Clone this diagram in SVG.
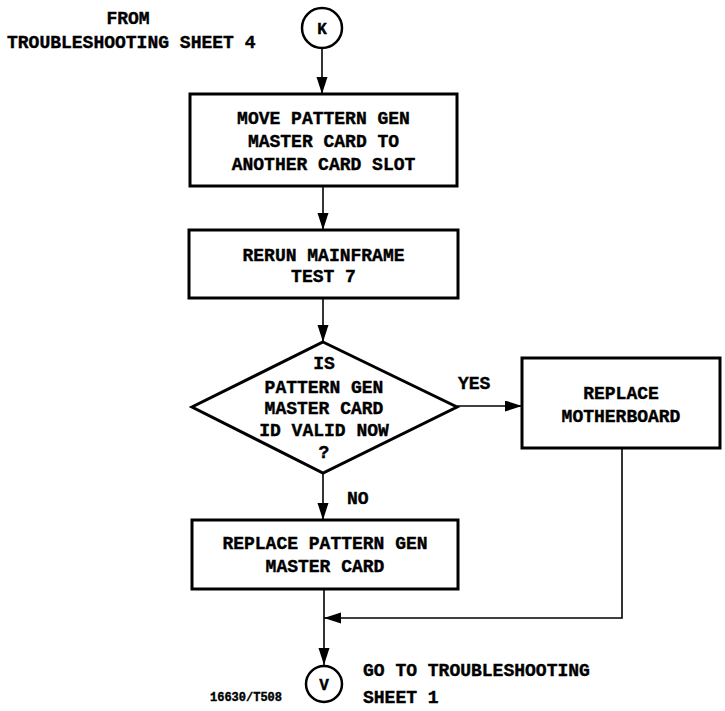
<svg xmlns="http://www.w3.org/2000/svg" width="725" height="711" viewBox="0 0 725 711">
<defs>
<style>
.t{font-family:"Liberation Mono","DejaVu Sans Mono",monospace;font-weight:bold;font-size:18px;fill:#000;stroke:#000;stroke-width:0.4;}
.c{text-anchor:middle;}
.box{fill:#fff;stroke:#000;stroke-width:3;}
.circ{fill:#fff;stroke:#000;stroke-width:2.5;}
.ln{fill:none;stroke:#000;stroke-width:1.6;}
</style>
<marker id="ah" markerUnits="userSpaceOnUse" markerWidth="18" markerHeight="12" refX="17" refY="5.5" orient="auto">
<path d="M0,0 L17,5.5 L0,11 z" fill="#000"/>
</marker>
</defs>
<rect width="725" height="711" fill="#fff"/>
<g id="connectors">
<line class="ln" x1="322" y1="48" x2="322" y2="94" marker-end="url(#ah)"/>
<line class="ln" x1="323" y1="186" x2="323" y2="230" marker-end="url(#ah)"/>
<line class="ln" x1="323" y1="298" x2="323" y2="342" marker-end="url(#ah)"/>
<line class="ln" x1="457" y1="406" x2="522" y2="406" marker-end="url(#ah)"/>
<line class="ln" x1="323" y1="473" x2="323" y2="520" marker-end="url(#ah)"/>
<line class="ln" x1="324" y1="589" x2="324" y2="665" marker-end="url(#ah)"/>
<polyline class="ln" points="622,448 622,618 324,618" marker-end="url(#ah)"/>
</g>
<g id="start-text">
<text class="t c" x="128" y="24">FROM</text>
<text class="t" x="7" y="48">TROUBLESHOOTING SHEET 4</text>
</g>
<g id="K">
<circle class="circ" cx="322" cy="28" r="20"/>
<text class="t c" x="322" y="34" style="font-size:16px">K</text>
</g>
<g id="move">
<rect class="box" x="190" y="94" width="267" height="92"/>
<text class="t c" x="323.5" y="124">MOVE PATTERN GEN</text>
<text class="t c" x="323.5" y="147">MASTER CARD TO</text>
<text class="t c" x="323.5" y="170">ANOTHER CARD SLOT</text>
</g>
<g id="rerun">
<rect class="box" x="189" y="230" width="269" height="68"/>
<text class="t c" x="323.5" y="261">RERUN MAINFRAME</text>
<text class="t c" x="323.5" y="282">TEST 7</text>
</g>
<g id="decision">
<polygon class="box" points="323,342 457,407 323,473 192,407"/>
<text class="t c" x="324" y="369">IS</text>
<text class="t c" x="324" y="393">PATTERN GEN</text>
<text class="t c" x="324" y="414">MASTER CARD</text>
<text class="t c" x="324" y="436">ID VALID NOW</text>
<text class="t c" x="324" y="458">?</text>
</g>
<g id="labels">
<text class="t" x="458" y="389">YES</text>
<text class="t" x="347" y="504">NO</text>
</g>
<g id="motherboard">
<rect class="box" x="522" y="358" width="198" height="90"/>
<text class="t c" x="621" y="399">REPLACE</text>
<text class="t c" x="621" y="422">MOTHERBOARD</text>
</g>
<g id="replace-card">
<rect class="box" x="192" y="520" width="266" height="69"/>
<text class="t c" x="325" y="549">REPLACE PATTERN GEN</text>
<text class="t c" x="325" y="572">MASTER CARD</text>
</g>
<g id="V">
<circle class="circ" cx="324" cy="684" r="18"/>
<text class="t c" x="324" y="690" style="font-size:16px">V</text>
</g>
<g id="end-text">
<text class="t" x="363" y="676">GO TO TROUBLESHOOTING</text>
<text class="t" x="363" y="703">SHEET 1</text>
<text class="t" x="210" y="701" style="font-size:12px">16630/T508</text>
</g>
</svg>
